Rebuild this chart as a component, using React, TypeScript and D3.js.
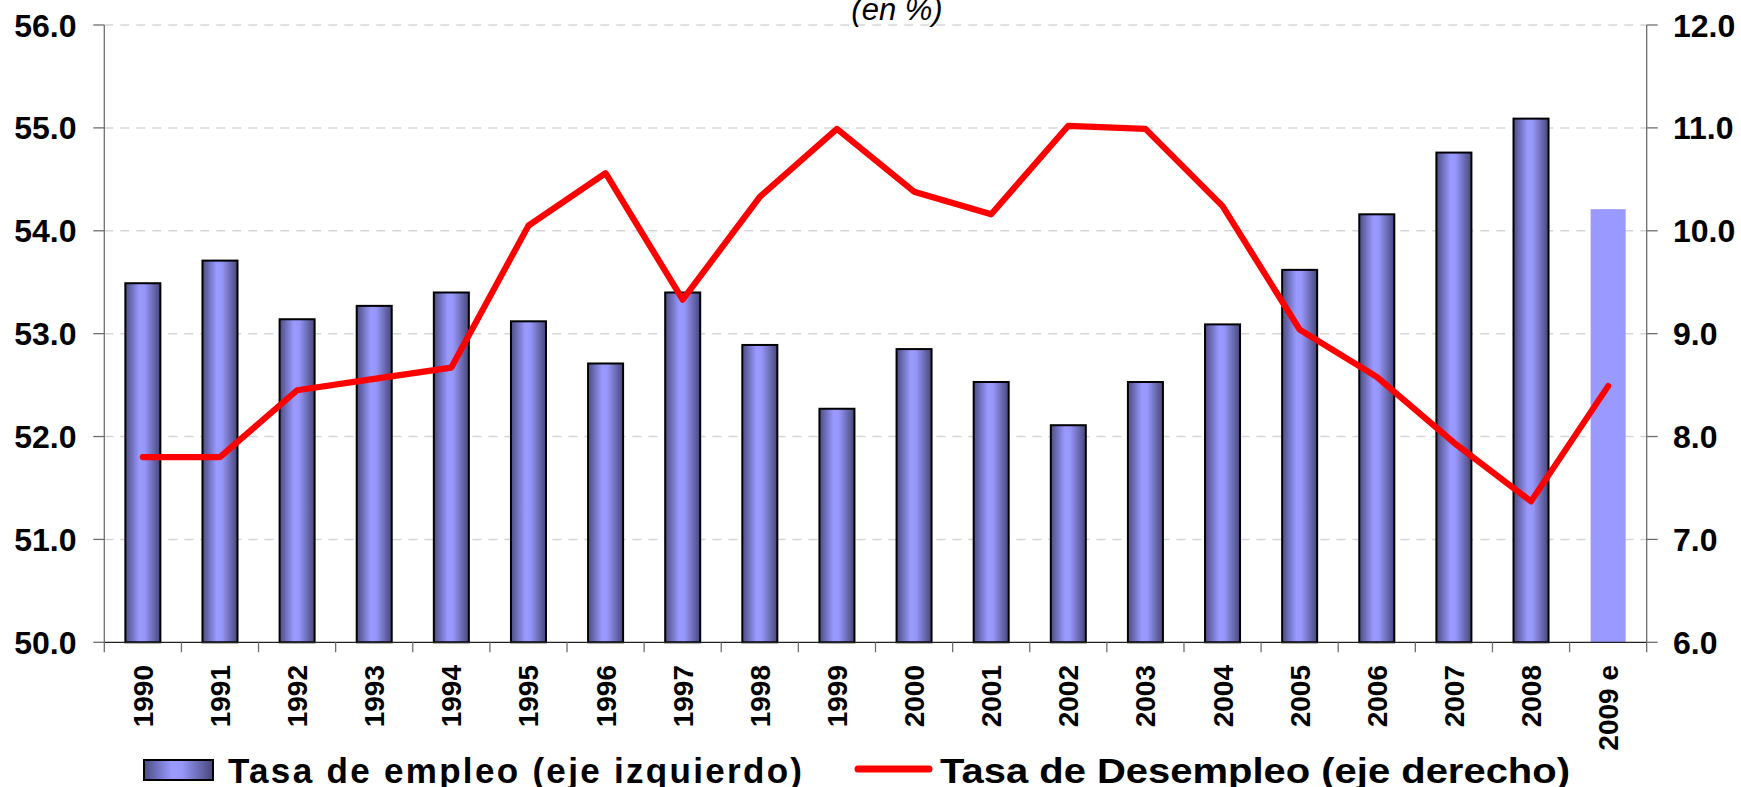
import React from 'react';
import * as d3 from 'd3';

const years = ['1990','1991','1992','1993','1994','1995','1996','1997','1998','1999','2000','2001','2002','2003','2004','2005','2006','2007','2008','2009 e'];
const empleo = [53.49,53.71,53.14,53.27,53.4,53.12,52.71,53.4,52.89,52.27,52.85,52.53,52.11,52.53,53.09,53.62,54.16,54.76,55.09,54.21];
const desempleo = [7.8,7.8,8.45,8.56,8.67,10.05,10.56,9.33,10.33,10.99,10.38,10.16,11.02,10.99,10.24,9.04,8.58,7.94,7.37,8.49];
const leftTicks = [50,51,52,53,54,55,56];
const rightTicks = [6,7,8,9,10,11,12];
const estimateIndex = 19;
const legendLabels = ['Tasa de empleo (eje izquierdo)', 'Tasa de Desempleo (eje derecho)'];
const subtitle = '(en %)';

const W = 1741, H = 787;
const L = 104.3, R = 1646.7, T = 25, B = 642.3;
const FONT = "'Liberation Sans', Arial, Helvetica, sans-serif";

export default function App() {
  const x = d3.scaleBand<string>().domain(years).range([L, R]).paddingInner(0.546).paddingOuter(0.273);
  const yL = d3.scaleLinear().domain([50, 56]).range([B, T]);
  const yR = d3.scaleLinear().domain([6, 12]).range([B, T]);
  const step = x.step();
  const cx = (y: string) => (x(y) as number) + x.bandwidth() / 2;
  const line = d3.line<number>().x((_, i) => cx(years[i])).y(d => yR(d));
  const boundaries = d3.range(years.length + 1).map(i => L + i * step);

  return (
    <svg width={W} height={H} style={{ position: 'absolute', left: 0, top: 0, background: '#fff' }} fontFamily={FONT}>
      <defs>
        <linearGradient id="barGrad" x1="0" x2="1" y1="0" y2="0">
          <stop offset="0%" stopColor="#4c4c82" />
          <stop offset="40%" stopColor="#9999ff" />
          <stop offset="55%" stopColor="#9797fb" />
          <stop offset="100%" stopColor="#47477a" />
        </linearGradient>
      </defs>
      {leftTicks.filter(t => t !== 50).map(t => (
        <line key={'g' + t} x1={L} x2={R} y1={yL(t)} y2={yL(t)} stroke="#d6d6d6" strokeWidth={1.5} strokeDasharray="9,7" />
      ))}
      <text x={897} y={20} textAnchor="middle" fontSize={31} fontStyle="italic" fill="#000">{subtitle}</text>
      {empleo.map((v, i) => i === estimateIndex ? (
        <rect key={'b' + i} x={x(years[i])} y={yL(v)} width={x.bandwidth()} height={yL(50) - yL(v)} fill="#9999ff" />
      ) : (
        <rect key={'b' + i} x={x(years[i])} y={yL(v)} width={x.bandwidth()} height={yL(50) - yL(v)} fill="url(#barGrad)" stroke="#000" strokeWidth={2} />
      ))}
      <path d={line(desempleo) || ''} fill="none" stroke="#ff0000" strokeWidth={6.2} strokeLinejoin="round" strokeLinecap="round" />
      <line x1={L} x2={L} y1={T} y2={B} stroke="#6e6e6e" strokeWidth={1.3} />
      <line x1={R} x2={R} y1={T} y2={B} stroke="#6e6e6e" strokeWidth={1.3} />
      <line x1={L} x2={R} y1={B} y2={B} stroke="#222" strokeWidth={1.3} />
      {leftTicks.map(t => (
        <g key={'lt' + t}>
          <line x1={L - 11} x2={L} y1={yL(t)} y2={yL(t)} stroke="#6e6e6e" strokeWidth={1.3} />
          <text x={76.5} y={yL(t)} dy="0.36em" textAnchor="end" fontSize={32} fontWeight="bold">{t.toFixed(1)}</text>
        </g>
      ))}
      {rightTicks.map(t => (
        <g key={'rt' + t}>
          <line x1={R} x2={R + 11} y1={yR(t)} y2={yR(t)} stroke="#6e6e6e" strokeWidth={1.3} />
          <text x={1673} y={yR(t)} dy="0.36em" textAnchor="start" fontSize={32} fontWeight="bold">{t.toFixed(1)}</text>
        </g>
      ))}
      {boundaries.map((bx, i) => (
        <line key={'xt' + i} x1={bx} x2={bx} y1={B} y2={B + 10} stroke="#6e6e6e" strokeWidth={1.3} />
      ))}
      {years.map(yv => (
        <text key={'xl' + yv} transform={`translate(${cx(yv) + 10},${665}) rotate(-90)`} textAnchor="end" fontSize={28} fontWeight="bold">{yv}</text>
      ))}
      <rect x={144} y={760} width={69} height={20} fill="url(#barGrad)" stroke="#000" strokeWidth={2} />
      <text x={228} y={783} fontSize={35} fontWeight="bold" textLength={574} lengthAdjust="spacing">{legendLabels[0]}</text>
      <line x1={858} x2={929} y1={769} y2={769} stroke="#ff0000" strokeWidth={7} strokeLinecap="round" />
      <text x={940} y={783} fontSize={35} fontWeight="bold" textLength={630} lengthAdjust="spacingAndGlyphs">{legendLabels[1]}</text>
    </svg>
  );
}
